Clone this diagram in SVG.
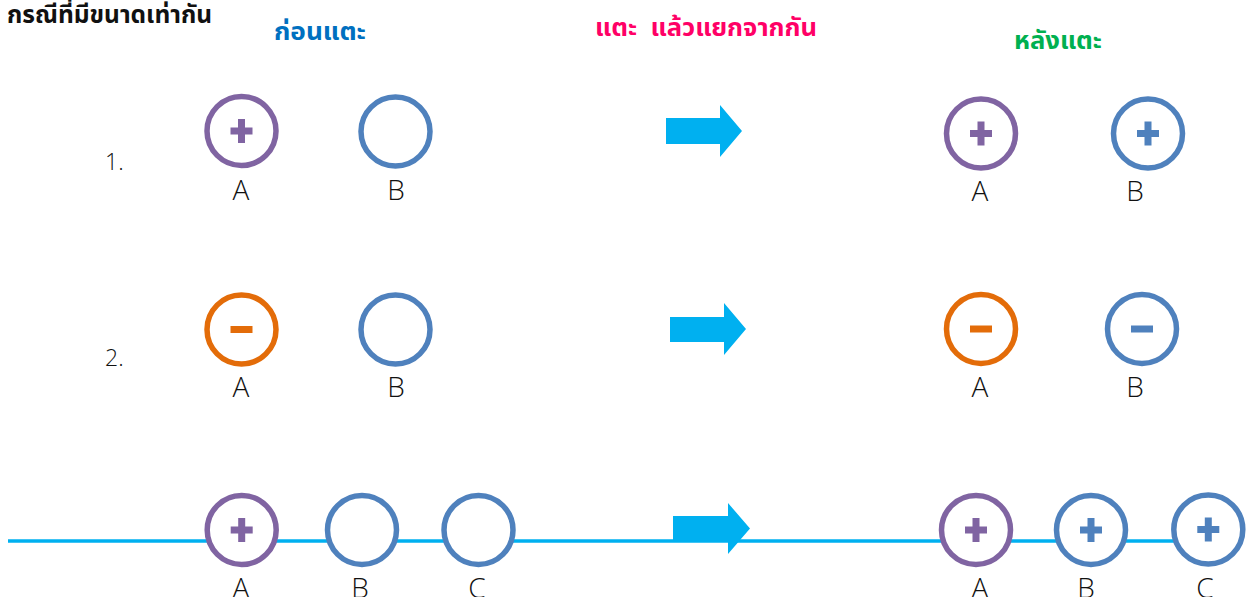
<svg xmlns="http://www.w3.org/2000/svg" width="1254" height="597" viewBox="0 0 1254 597">
  <style>
    .ring { fill: #ffffff; stroke-width: 5.5; }
    .pos { stroke: #8064A2; }
    .neu { stroke: #4F81BD; }
    .neg { stroke: #E36C09; }
    .sign { fill: none; stroke-width: 7; stroke-linecap: butt; }
    .lbl { font-family: "Open Sans", "Liberation Sans", sans-serif; font-weight: 300; font-size: 28px; fill: #111111; text-anchor: middle; }
    .num { font-family: "Open Sans", "Liberation Sans", sans-serif; font-weight: 300; font-size: 23px; fill: #111111; }
    .thai { font-family: "Noto Sans Thai", "Noto Sans", "DejaVu Sans", sans-serif; font-weight: bold; }
    .wire { stroke: #00B0F0; stroke-width: 3.5; fill: none; }
    .blk { fill: #00B0F0; }
  </style>
  <defs>
    <path id="plus" d="M-11 0H11M0 -12V12"/>
    <path id="minus" d="M-11 0H11"/>
  </defs>

  <!-- headings -->
  <g id="headings" class="thai">
    <text x="7" y="23" font-size="25" fill="#111111" textLength="205" lengthAdjust="spacingAndGlyphs">กรณีที่มีขนาดเท่ากัน</text>
    <text x="274" y="39.5" font-size="24" fill="#0070C0" textLength="92" lengthAdjust="spacingAndGlyphs">ก่อนแตะ</text>
    <text x="595" y="36" font-size="24" fill="#FF0066" textLength="222" lengthAdjust="spacingAndGlyphs" xml:space="preserve" style="white-space:pre">แตะ  แล้วแยกจากกัน</text>
    <text x="1014" y="49" font-size="24" fill="#00B050" textLength="88" lengthAdjust="spacingAndGlyphs">หลังแตะ</text>
  </g>

  <!-- case numbers -->
  <g id="case-numbers" class="num">
    <text x="105" y="169.5">1.</text>
    <text x="105" y="365.5">2.</text>
  </g>

  <!-- wire and transition arrows -->
  <g id="connectors">
    <line class="wire" x1="8" y1="541" x2="1174" y2="541"/>
    <path class="blk" d="M666 118H720V105L742 131L720 157V144H666Z"/>
    <path class="blk" d="M670 317H724V303L746 329L724 355V342H670Z"/>
    <path class="blk" d="M673 516H728V503L750 528.5L728 554V540H673Z"/>
  </g>

  <!-- case 1, before -->
  <g id="c1-before-A">
    <circle class="ring pos" cx="241.5" cy="131" r="34.5"/>
    <use href="#plus" class="sign pos" x="241.5" y="131"/>
    <text class="lbl" x="241" y="200">A</text>
  </g>
  <g id="c1-before-B">
    <circle class="ring neu" cx="395.5" cy="131.5" r="34.5"/>
    <text class="lbl" x="396" y="200">B</text>
  </g>
  <!-- case 1, after -->
  <g id="c1-after-A">
    <circle class="ring pos" cx="981" cy="133.5" r="34.5"/>
    <use href="#plus" class="sign pos" x="981" y="133.5"/>
    <text class="lbl" x="980" y="201">A</text>
  </g>
  <g id="c1-after-B">
    <circle class="ring neu" cx="1148" cy="133.5" r="34.5"/>
    <use href="#plus" class="sign neu" x="1148" y="133.5"/>
    <text class="lbl" x="1135" y="201">B</text>
  </g>

  <!-- case 2, before -->
  <g id="c2-before-A">
    <circle class="ring neg" cx="241.5" cy="329.5" r="34.5"/>
    <use href="#minus" class="sign neg" x="241.5" y="329.5"/>
    <text class="lbl" x="241" y="397">A</text>
  </g>
  <g id="c2-before-B">
    <circle class="ring neu" cx="395.5" cy="329.5" r="34.5"/>
    <text class="lbl" x="396" y="397">B</text>
  </g>
  <!-- case 2, after -->
  <g id="c2-after-A">
    <circle class="ring neg" cx="981" cy="329" r="34.5"/>
    <use href="#minus" class="sign neg" x="981" y="329"/>
    <text class="lbl" x="980" y="397">A</text>
  </g>
  <g id="c2-after-B">
    <circle class="ring neu" cx="1142" cy="329" r="34.5"/>
    <use href="#minus" class="sign neu" x="1142" y="329"/>
    <text class="lbl" x="1135" y="397">B</text>
  </g>

  <!-- case 3, before -->
  <g id="c3-before-A">
    <circle class="ring pos" cx="241.7" cy="530" r="34.5"/>
    <use href="#plus" class="sign pos" x="241.7" y="530"/>
    <text class="lbl" x="241" y="598">A</text>
  </g>
  <g id="c3-before-B">
    <circle class="ring neu" cx="362" cy="530" r="34.5"/>
    <text class="lbl" x="360" y="598">B</text>
  </g>
  <g id="c3-before-C">
    <circle class="ring neu" cx="478.5" cy="530" r="34.5"/>
    <text class="lbl" x="477" y="598">C</text>
  </g>
  <!-- case 3, after -->
  <g id="c3-after-A">
    <circle class="ring pos" cx="976" cy="530" r="34.5"/>
    <use href="#plus" class="sign pos" x="976" y="530"/>
    <text class="lbl" x="980" y="598">A</text>
  </g>
  <g id="c3-after-B">
    <circle class="ring neu" cx="1091" cy="530" r="34.5"/>
    <use href="#plus" class="sign neu" x="1091" y="530"/>
    <text class="lbl" x="1086" y="598">B</text>
  </g>
  <g id="c3-after-C">
    <circle class="ring neu" cx="1208.3" cy="529.5" r="34.5"/>
    <use href="#plus" class="sign neu" x="1208.3" y="529.5"/>
    <text class="lbl" x="1205" y="598">C</text>
  </g>
</svg>
